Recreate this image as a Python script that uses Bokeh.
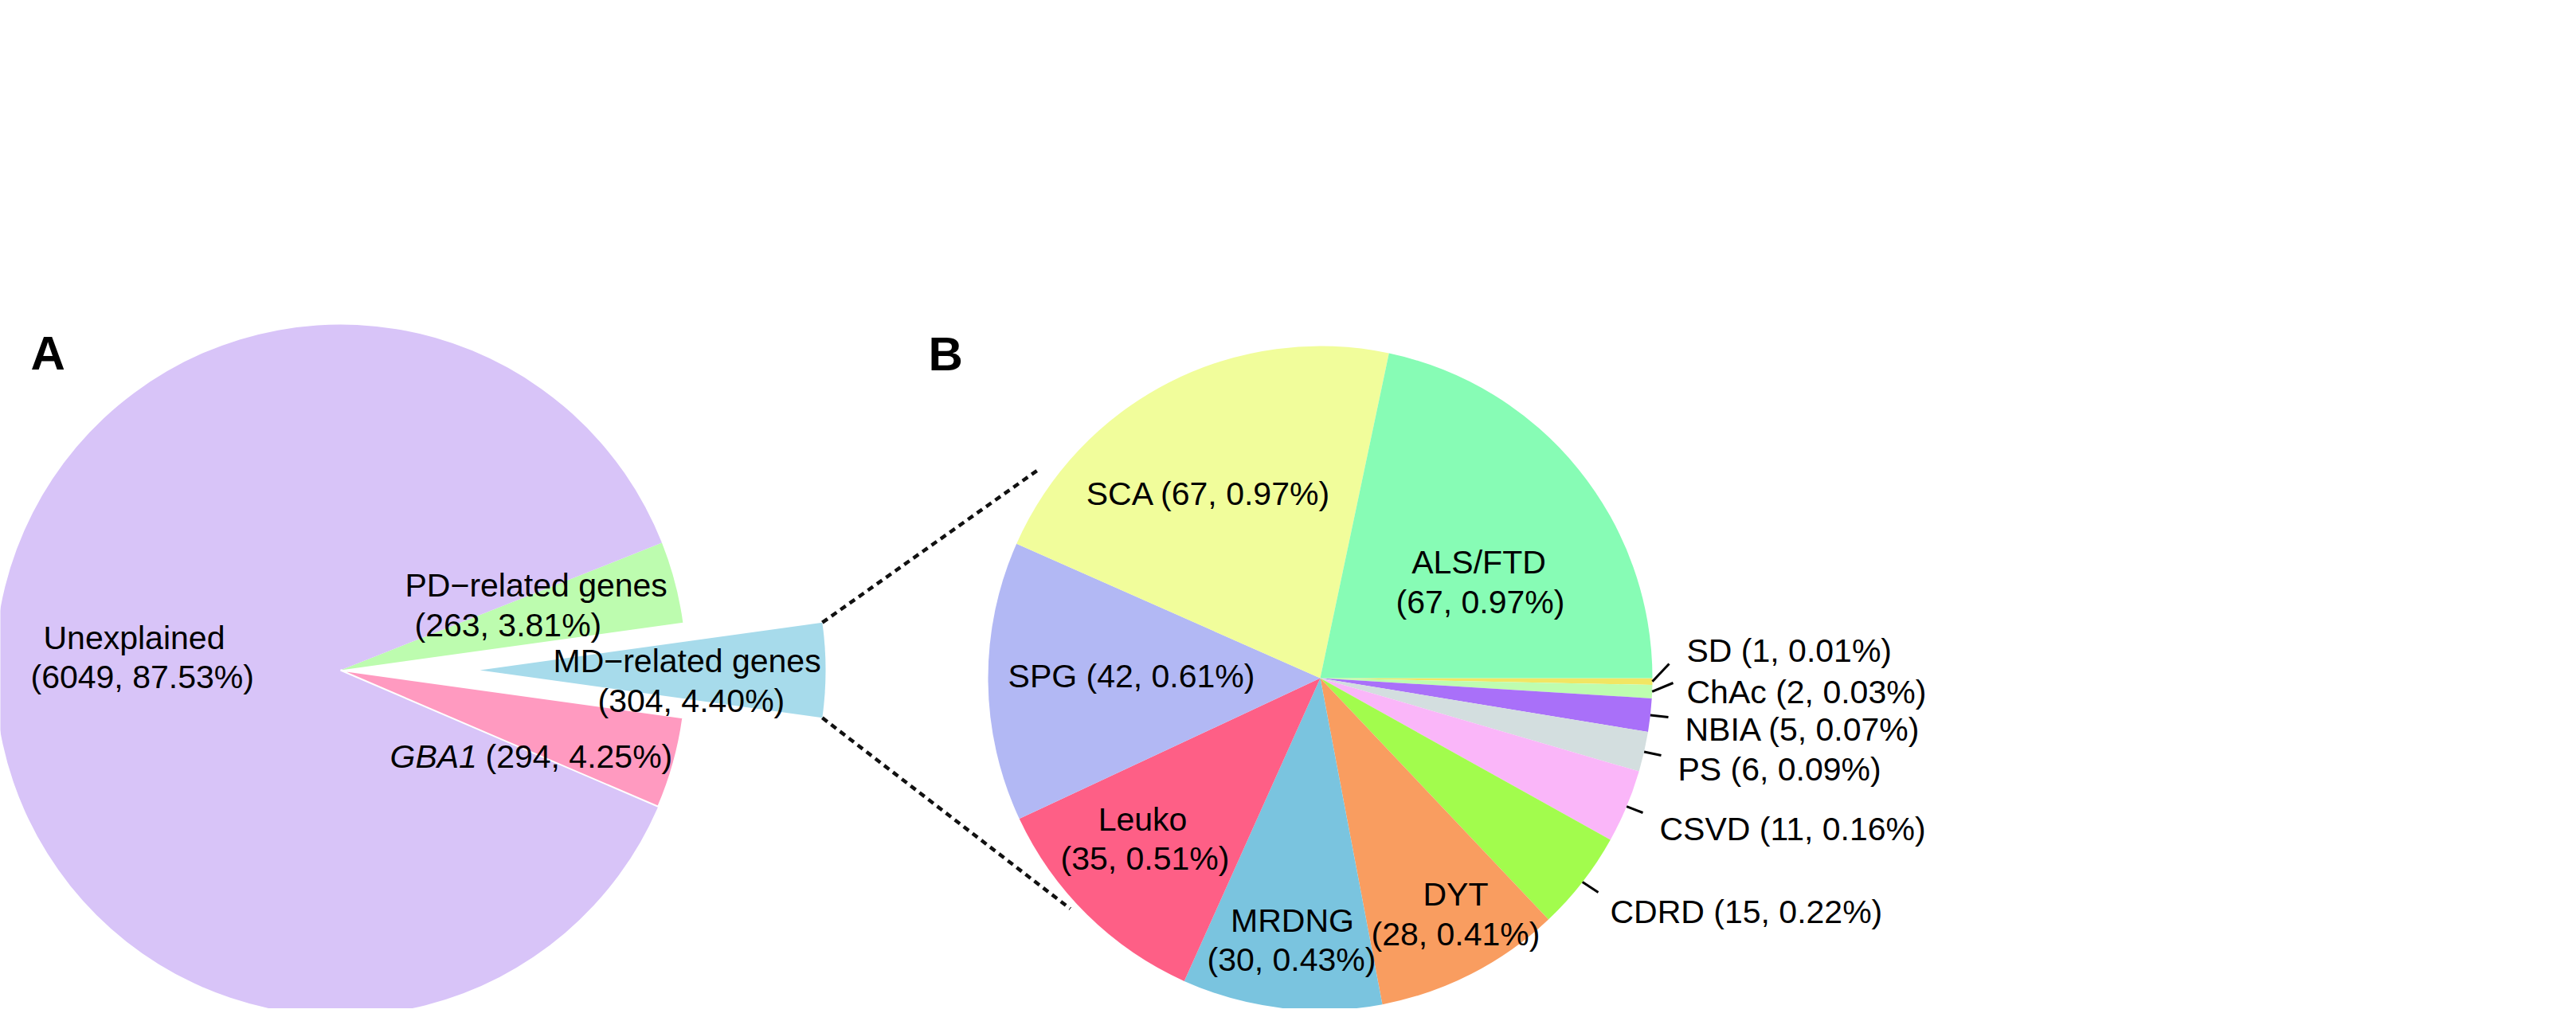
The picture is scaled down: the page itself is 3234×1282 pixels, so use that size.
import math
from bokeh.plotting import figure
from bokeh.models import ColumnDataSource, Range1d
from bokeh.core.properties import value
from bokeh.embed import file_html
from bokeh.resources import INLINE

# ---------------- data ----------------
a_names = ["MD−related genes", "PD−related genes", "Unexplained", "GBA1"]
a_counts = [304, 263, 6049, 294]
a_pcts = ["4.40%", "3.81%", "87.53%", "4.25%"]
a_colors = ["#A7DBEB", "#BDFCAF", "#D8C4F8", "#FF9AC0"]

b_names = ["SD", "ChAc", "NBIA", "PS", "CSVD", "CDRD", "DYT", "MRDNG",
           "Leuko", "SPG", "SCA", "ALS/FTD"]
b_counts = [1, 2, 5, 6, 11, 15, 28, 30, 35, 42, 67, 67]
b_pcts = ["0.01%", "0.03%", "0.07%", "0.09%", "0.16%", "0.22%", "0.41%",
          "0.43%", "0.51%", "0.61%", "0.97%", "0.97%"]
b_colors = ["#F1E663", "#BEFDB0", "#A970F9", "#D3DEDF", "#FAB6F9", "#A2FC4D",
            "#F99D60", "#7AC4DF", "#FE5F86", "#B2B8F4", "#F1FD9B", "#87FCB5"]

# ---------------- layout ----------------
W, H = 3218, 1266
OFF = 8


def sx(X):
    return X - OFF


def sy(Y):
    return (H + OFF) - Y


FONT = value("Liberation Sans")
FS = value("41px")

A_CX, A_CY, A_R = sx(435), sy(849), 434
A_EXPLODE = [175, 0, 0, 0]
B_CX, B_CY, B_R = sx(1665), sy(859), 417

p = figure(width=W, height=H, output_backend="svg", toolbar_location=None,
           x_range=Range1d(0, W), y_range=Range1d(0, H), min_border=0)
p.axis.visible = False
p.grid.visible = False
p.outline_line_color = None
p.background_fill_color = "white"
p.border_fill_color = "white"

# ---------------- pie A ----------------
a_total = sum(a_counts)
cur = -math.pi * a_counts[0] / a_total
a_start, a_end, a_x, a_y = [], [], [], []
for c, ex in zip(a_counts, A_EXPLODE):
    s = cur
    e = cur + 2 * math.pi * c / a_total
    m = (s + e) / 2
    a_start.append(s)
    a_end.append(e)
    a_x.append(A_CX + ex * math.cos(m))
    a_y.append(A_CY + ex * math.sin(m))
    cur = e

srcA = ColumnDataSource(dict(x=a_x, y=a_y, s=a_start, e=a_end, color=a_colors,
                             la=[0, 0, 0, 1]))
p.wedge(x="x", y="y", radius=A_R, start_angle="s", end_angle="e",
        fill_color="color", line_color="white", line_alpha="la", line_width=2,
        source=srcA)

# ---------------- pie B ----------------
b_total = sum(b_counts)
cur = 0.0
b_start, b_end, b_mid = [], [], []
for c in b_counts:
    hi = cur
    lo = cur - 2 * math.pi * c / b_total
    b_start.append(lo)
    b_end.append(hi)
    b_mid.append((lo + hi) / 2)
    cur = lo

srcB = ColumnDataSource(dict(s=b_start, e=b_end, color=b_colors))
p.wedge(x=B_CX, y=B_CY, radius=B_R, start_angle="s", end_angle="e",
        fill_color="color", line_color=None, source=srcB)

# ---------------- dotted connector lines ----------------
md_x, md_y = a_x[0], a_y[0]
up_start = (md_x + A_R * math.cos(a_end[0]), md_y + A_R * math.sin(a_end[0]))
lo_start = (md_x + A_R * math.cos(a_start[0]), md_y + A_R * math.sin(a_start[0]))
up_ang, up_rf = math.radians(143.4), 1.055
lo_ang, lo_rf = math.radians(-137.3), 1.024
up_end = (B_CX + up_rf * B_R * math.cos(up_ang), B_CY + up_rf * B_R * math.sin(up_ang))
lo_end = (B_CX + lo_rf * B_R * math.cos(lo_ang), B_CY + lo_rf * B_R * math.sin(lo_ang))
p.segment(x0=[up_start[0], lo_start[0]], y0=[up_start[1], lo_start[1]],
          x1=[up_end[0], lo_end[0]], y1=[up_end[1], lo_end[1]],
          line_color="#111111", line_width=4.5, line_dash="8 6")

# ---------------- labels pie A ----------------
A_LAYOUT = {
    "Unexplained": [(62, 808), (46, 857)],
    "PD−related genes": [(516, 742), (528, 792)],
    "MD−related genes": [(702, 837), (758, 887)],
}
tx, ty, tt = [], [], []
for name, c, pc in zip(a_names, a_counts, a_pcts):
    if name in A_LAYOUT:
        lines = [name, f"({c}, {pc})"]
        for (X, Y), t in zip(A_LAYOUT[name], lines):
            tx.append(sx(X))
            ty.append(sy(Y))
            tt.append(t)
p.text(x=tx, y=ty, text=tt, text_align="left", text_baseline="alphabetic",
       text_font=FONT, text_font_size=FS, text_color="black")

gi = a_names.index("GBA1")
p.text(x=[sx(497)], y=[sy(957)], text=[a_names[gi]], text_align="left",
       text_baseline="alphabetic", text_font=FONT, text_font_size=FS,
       text_font_style="italic", text_color="black")
p.text(x=[sx(617)], y=[sy(957)], text=[f"({a_counts[gi]}, {a_pcts[gi]})"],
       text_align="left", text_baseline="alphabetic", text_font=FONT,
       text_font_size=FS, text_color="black")

# ---------------- labels pie B (inside) ----------------
B_INSIDE = {
    "SCA": [(1525, 627)],
    "ALS/FTD": [(1864, 713), (1866, 763)],
    "SPG": [(1428, 856)],
    "Leuko": [(1442, 1036), (1445, 1085)],
    "MRDNG": [(1630, 1163), (1629, 1212)],
    "DYT": [(1835, 1130), (1835, 1180)],
}
tx, ty, tt = [], [], []
for name, c, pc in zip(b_names, b_counts, b_pcts):
    if name in B_INSIDE:
        pos = B_INSIDE[name]
        lines = [f"{name} ({c}, {pc})"] if len(pos) == 1 else [name, f"({c}, {pc})"]
        for (X, Y), t in zip(pos, lines):
            tx.append(sx(X))
            ty.append(sy(Y))
            tt.append(t)
p.text(x=tx, y=ty, text=tt, text_align="center", text_baseline="alphabetic",
       text_font=FONT, text_font_size=FS, text_color="black")

# ---------------- labels pie B (outside, with leaders) ----------------
B_OUTSIDE = {
    "SD": ((2125, 824), (2103, 841)),
    "ChAc": ((2125, 876), (2108, 865)),
    "NBIA": ((2123, 923), (2102, 908)),
    "PS": ((2114, 973), (2093, 956)),
    "CSVD": ((2091, 1048), (2070, 1028)),
    "CDRD": ((2029, 1152), (2014, 1128)),
}
tx, ty, tt = [], [], []
lx0, ly0, lx1, ly1 = [], [], [], []
for name, c, pc, m in zip(b_names, b_counts, b_pcts, b_mid):
    if name in B_OUTSIDE:
        (X, Y), (EX, EY) = B_OUTSIDE[name]
        tx.append(sx(X))
        ty.append(sy(Y))
        tt.append(f"{name} ({c}, {pc})")
        lx0.append(B_CX + B_R * math.cos(m))
        ly0.append(B_CY + B_R * math.sin(m))
        lx1.append(sx(EX))
        ly1.append(sy(EY))
p.segment(x0=lx0, y0=ly0, x1=lx1, y1=ly1, line_color="black", line_width=3)
p.text(x=tx, y=ty, text=tt, text_align="left", text_baseline="alphabetic",
       text_font=FONT, text_font_size=FS, text_color="black")

# ---------------- panel letters ----------------
p.text(x=[sx(46), sx(1173)], y=[sy(451), sy(452)], text=["A", "B"],
       text_align="left", text_baseline="alphabetic", text_font=FONT,
       text_font_size=value("60px"), text_font_style="bold", text_color="black")

open("out.html", "w").write(file_html(p, INLINE))
